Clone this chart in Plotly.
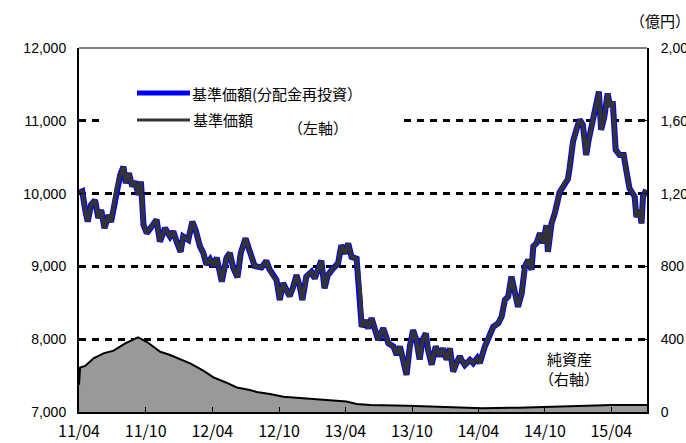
import plotly.graph_objects as go

# Fund NAV (left axis, yen) – reinvested and plain series share the same path
nav_dates = [
    "2011-04-01", "2011-04-10", "2011-04-18", "2011-04-25", "2011-05-04", "2011-05-15",
    "2011-05-24", "2011-06-01", "2011-06-10", "2011-06-21", "2011-06-28", "2011-07-07",
    "2011-07-14", "2011-07-23", "2011-08-01", "2011-08-07", "2011-08-16", "2011-08-25",
    "2011-09-02", "2011-09-11", "2011-09-18", "2011-09-25", "2011-10-04", "2011-10-13",
    "2011-10-22", "2011-10-31", "2011-11-09", "2011-11-23", "2011-12-07", "2011-12-16",
    "2011-12-25", "2012-01-05", "2012-01-12", "2012-01-26", "2012-02-06", "2012-02-15",
    "2012-02-27", "2012-03-07", "2012-03-16", "2012-03-26", "2012-04-04", "2012-04-13",
    "2012-04-27", "2012-05-10", "2012-05-19", "2012-05-28", "2012-06-09", "2012-06-18",
    "2012-07-01", "2012-07-08", "2012-07-17", "2012-07-26", "2012-08-14", "2012-08-27",
    "2012-09-05", "2012-09-14", "2012-09-24", "2012-10-03", "2012-10-12", "2012-10-21",
    "2012-10-30", "2012-11-08", "2012-11-18", "2012-11-27", "2012-12-04", "2012-12-15",
    "2012-12-29", "2013-01-07", "2013-01-16", "2013-01-25", "2013-02-03", "2013-02-12",
    "2013-02-26", "2013-03-12", "2013-03-21", "2013-03-31", "2013-04-09", "2013-04-18",
    "2013-05-02", "2013-05-06", "2013-05-13", "2013-05-16", "2013-05-25", "2013-06-03",
    "2013-06-12", "2013-06-21", "2013-06-30", "2013-07-14", "2013-07-28", "2013-08-11",
    "2013-08-20", "2013-08-29", "2013-09-07", "2013-09-16", "2013-09-25", "2013-10-04",
    "2013-10-13", "2013-10-22", "2013-10-30", "2013-11-08", "2013-11-14", "2013-11-24",
    "2013-12-05", "2013-12-16", "2013-12-25", "2014-01-04", "2014-01-13", "2014-01-22",
    "2014-01-31", "2014-02-09", "2014-02-14", "2014-02-23", "2014-03-09", "2014-03-18",
    "2014-03-29", "2014-04-05", "2014-04-19", "2014-05-03", "2014-05-12", "2014-05-26",
    "2014-06-04", "2014-06-13", "2014-06-22", "2014-07-01", "2014-07-10", "2014-07-19",
    "2014-07-29", "2014-08-07", "2014-08-16", "2014-08-25", "2014-08-30", "2014-09-08",
    "2014-09-17", "2014-09-26", "2014-10-05", "2014-10-09", "2014-10-19", "2014-10-28",
    "2014-11-10", "2014-11-24", "2014-12-03", "2014-12-07", "2014-12-17", "2014-12-26",
    "2015-01-04", "2015-01-13", "2015-01-22", "2015-01-29", "2015-02-09", "2015-02-14",
    "2015-02-19", "2015-02-26", "2015-03-04", "2015-03-13", "2015-03-22", "2015-03-29",
    "2015-04-05", "2015-04-13", "2015-04-24", "2015-05-05", "2015-05-12", "2015-05-21",
    "2015-06-04", "2015-06-09", "2015-06-18", "2015-06-23", "2015-06-27", "2015-07-06",
]
nav_values = [
    10010, 10030, 9775, 9615, 9845, 9910,
    9665, 9775, 9525, 9705, 9610, 9845,
    10100, 10255, 10370, 10145, 10280, 10100,
    10165, 9985, 10165, 9570, 9455, 9525,
    9590, 9640, 9340, 9525, 9410, 9480,
    9340, 9200, 9410, 9365, 9615, 9500,
    9275, 9185, 9025, 9095, 9005, 9120,
    8790, 9120, 9185, 8985, 8850, 9185,
    9385, 9275, 9140, 9005, 8985, 9075,
    8960, 8870, 8815, 8540, 8770, 8680,
    8590, 8705, 8880, 8725, 8540, 8860,
    8925, 8835, 8970, 9080, 8700, 8880,
    8970, 9040, 9290, 9175, 9315, 9130,
    9105, 8880, 8540, 8170, 8260, 8150,
    8290, 8150, 7990, 8150, 7945, 7900,
    7785, 7900, 7720, 7510, 7900, 8125,
    7990, 7720, 7990, 8080, 7855, 7650,
    7900, 7765, 7875, 7720, 7875, 7555,
    7670, 7765, 7715, 7645, 7715, 7670,
    7740, 7670, 7900, 8060, 8170, 8220,
    8310, 8540, 8585, 8860, 8675, 8445,
    8630, 9000, 9090, 8955, 9275, 9320,
    9455, 9320, 9565, 9200, 9590, 9730,
    10015, 10150, 10200, 10325, 10715, 10875,
    11015, 10945, 10530, 10740, 11015, 11125,
    11285, 11400, 10875, 11060, 11375, 11195,
    11265, 10600, 10530, 10530, 10325, 10070,
    9960, 9680, 9775, 9590, 9960, 10050,
]
# No distributions were paid, so the reinvested NAV equals the plain NAV
nav_reinvested = list(nav_values)

# Net assets (right axis, 100 million yen)
asset_dates = [
    "2011-04-01", "2011-04-04", "2011-04-18", "2011-05-11", "2011-06-07", "2011-07-05",
    "2011-08-06", "2011-09-10", "2011-10-04", "2011-11-10", "2011-12-07", "2012-01-03",
    "2012-01-31", "2012-03-07", "2012-04-04", "2012-05-10", "2012-06-07", "2012-07-13",
    "2012-08-01", "2012-09-06", "2012-10-13", "2012-12-06", "2013-01-31", "2013-04-04",
    "2013-05-02", "2013-06-08", "2013-09-19", "2014-01-01", "2014-04-11", "2014-07-21",
    "2014-11-01", "2015-02-10", "2015-04-02", "2015-07-08",
]
asset_values = [
    148, 244, 253, 295, 322, 337,
    377, 410, 386, 331, 313, 289,
    267, 227, 190, 161, 135, 121,
    110, 99, 84, 75, 66, 58,
    44, 38, 35, 29, 20, 24,
    29, 35, 38, 38,
]

x_range = ["2011-04-01", "2015-07-08"]
left_range = [7000, 12000]
right_range = [0, 2000]

JP = "Noto Sans CJK JP"
NUM = "Liberation Sans"

fig = go.Figure()

fig.add_trace(go.Scatter(
    x=asset_dates, y=asset_values, yaxis="y2", mode="lines",
    line=dict(color="#000000", width=2), fill="tozeroy", fillcolor="#999999",
    name="純資産", hoverinfo="skip",
))
fig.add_trace(go.Scatter(
    x=nav_dates, y=nav_reinvested, mode="lines",
    line=dict(color="#0000ff", width=6), name="基準価額(分配金再投資)",
))
fig.add_trace(go.Scatter(
    x=nav_dates, y=nav_values, mode="lines",
    line=dict(color="#333333", width=4), name="基準価額",
))

# Chart area geometry (pixels) used to place the hand-made legend
W, H = 686, 443
L, R, T, B = 79, 39, 48, 31
pw, ph = W - L - R, H - T - B


def px(x):
    return (x - L) / pw


def py(y):
    return (H - B - y) / ph


shapes = [
    # white panel behind the legend, hiding the grid
    dict(type="rect", xref="paper", yref="paper", layer="above",
         x0=px(102), x1=px(398), y0=py(140), y1=py(78),
         fillcolor="white", line=dict(width=0)),
    # legend keys
    dict(type="line", xref="paper", yref="paper", layer="above", x0=px(137), x1=px(190),
         y0=py(93), y1=py(93), line=dict(color="#0000ff", width=5)),
    dict(type="line", xref="paper", yref="paper", layer="above", x0=px(137), x1=px(190),
         y0=py(120), y1=py(120), line=dict(color="#333333", width=3)),
    # top frame
    dict(type="line", xref="paper", yref="paper", layer="above", x0=0, x1=1, y0=1, y1=1,
         line=dict(color="#808080", width=2)),
]

annotations = [
    dict(text="基準価額(分配金再投資）", x=px(190), y=py(93), xref="paper", yref="paper",
         xanchor="left", yanchor="middle", showarrow=False, font=dict(family=JP, size=15, color="black")),
    dict(text="基準価額", x=px(191), y=py(120), xref="paper", yref="paper",
         xanchor="left", yanchor="middle", showarrow=False, font=dict(family=JP, size=15, color="black")),
    dict(text="（左軸）", x=px(286), y=py(127), xref="paper", yref="paper",
         xanchor="left", yanchor="middle", showarrow=False, font=dict(family=JP, size=15, color="black")),
    dict(text="純資産", x=px(569), y=py(358), xref="paper", yref="paper",
         xanchor="center", yanchor="middle", showarrow=False, font=dict(family=JP, size=15, color="black")),
    dict(text="（右軸）", x=px(569), y=py(378), xref="paper", yref="paper",
         xanchor="center", yanchor="middle", showarrow=False, font=dict(family=JP, size=15, color="black")),
    dict(text="（億円）", x=px(628), y=py(20), xref="paper", yref="paper",
         xanchor="left", yanchor="middle", showarrow=False, font=dict(family=JP, size=15, color="black")),
]

fig.update_layout(
    width=W, height=H,
    margin=dict(l=L, r=R, t=T, b=B, autoexpand=False),
    plot_bgcolor="white", paper_bgcolor="white",
    showlegend=False,
    shapes=shapes, annotations=annotations,
    xaxis=dict(
        type="date", range=x_range, dtick="M6", tick0="2011-04-01", tickformat="%y/%m",
        showgrid=False, zeroline=False, automargin=False,
        showline=True, linecolor="black", linewidth=2,
        ticks="inside", ticklen=5, tickwidth=1, tickcolor="black",
        tickfont=dict(family=JP, size=16, color="black"), ticklabelstandoff=4,
    ),
    yaxis=dict(
        range=left_range, dtick=1000, tickformat=",", automargin=False,
        showgrid=True, gridcolor="black", gridwidth=3, griddash="7px,6px",
        zeroline=False, showline=True, linecolor="black", linewidth=2,
        ticks="inside", ticklen=4, tickcolor="black",
        tickfont=dict(family=NUM, size=14, color="black"), ticklabelstandoff=8,
    ),
    yaxis2=dict(
        range=right_range, dtick=400, tickformat=",", overlaying="y", side="right",
        automargin=False,
        showgrid=False, zeroline=False, showline=True, linecolor="black", linewidth=2,
        ticks="inside", ticklen=4, tickcolor="black",
        tickfont=dict(family=NUM, size=14, color="black"), ticklabelstandoff=9,
    ),
)

fig.write_html("out.html")
